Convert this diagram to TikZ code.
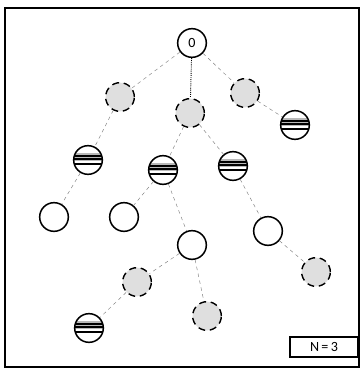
\documentclass[tikz,border=0pt]{standalone}
\usepackage{fontspec}
\setmainfont{Carlito}
\usetikzlibrary{positioning}

\begin{document}
\begin{tikzpicture}[
    x=0.03cm, y=-0.03cm,
    plain/.style={circle, draw, line width=1.3pt, fill=white, minimum size=0.86cm, inner sep=0pt},
    striped/.style={circle, draw, line width=1.3pt, fill=white, minimum size=0.86cm, inner sep=0pt,
        path picture={
            \fill[gray!55] ([yshift=0.2cm]path picture bounding box.west) rectangle ([yshift=-0.04cm]path picture bounding box.east);
            \foreach \yy in {0.13,0.02,-0.12}
                \draw[line width=1.5pt] ([yshift=\yy cm]path picture bounding box.west) -- ([yshift=\yy cm]path picture bounding box.east);
        }},
    faded/.style={circle, draw, line width=1.2pt, fill=gray!25, dash pattern=on 6pt off 4pt, minimum size=0.86cm, inner sep=0pt},
    line/.style={draw, gray, dashed, thin},
    counter/.style={rectangle, draw, line width=1.3pt, minimum width=2.05cm, minimum height=0.6cm, font=\large}
]

% frame
\useasboundingbox (0,0) rectangle (363,370);
\draw[line width=1.3pt] (5,8) rectangle (359,367);

% Root and first level
\node[plain, font=\large] (root) at (192,43) {0};
\node[faded] (lvlA) at (120,97) {};
\node[faded] (lvlB) at (190,113) {};
\node[faded] (lvlC) at (245,93) {};

% Second level
\node[striped] (cutC) at (295,125) {};
\node[striped] (cutA) at (88,160) {};
\node[striped] (cutB1) at (163,170) {};
\node[striped] (cutB2) at (233,166) {};

% Third level
\node[plain] (leafA) at (54,217) {};
\node[plain] (leafB1) at (124,217) {};
\node[plain] (leafB2) at (192,245) {};
\node[plain] (leafB3) at (268,231) {};

% Lower branches
\node[faded] (lowA) at (137,282) {};
\node[faded] (lowB) at (207,316) {};
\node[faded] (lowC) at (316,272) {};
\node[striped] (lowD) at (89,328) {};

% Counter box
\node[counter] (count) at (324,347) {N\,=\,3};

% Edges
\path[line] (root) -- (lvlA);
\path[draw, densely dotted, thick] (root) -- (lvlB);
\path[line] (root) -- (lvlC);
\path[line] (lvlC) -- (cutC);
\path[line] (lvlA) -- (cutA);
\path[line] (cutA) -- (leafA);
\path[line] (lvlB) -- (cutB1);
\path[line] (lvlB) -- (cutB2);
\path[line] (cutB1) -- (leafB1);
\path[line] (cutB1) -- (leafB2);
\path[line] (cutB2) -- (leafB3);
\path[line] (leafB2) -- (lowA);
\path[line] (leafB2) -- (lowB);
\path[line] (leafB3) -- (lowC);
\path[line] (lowA) -- (lowD);

\end{tikzpicture}
\end{document}
